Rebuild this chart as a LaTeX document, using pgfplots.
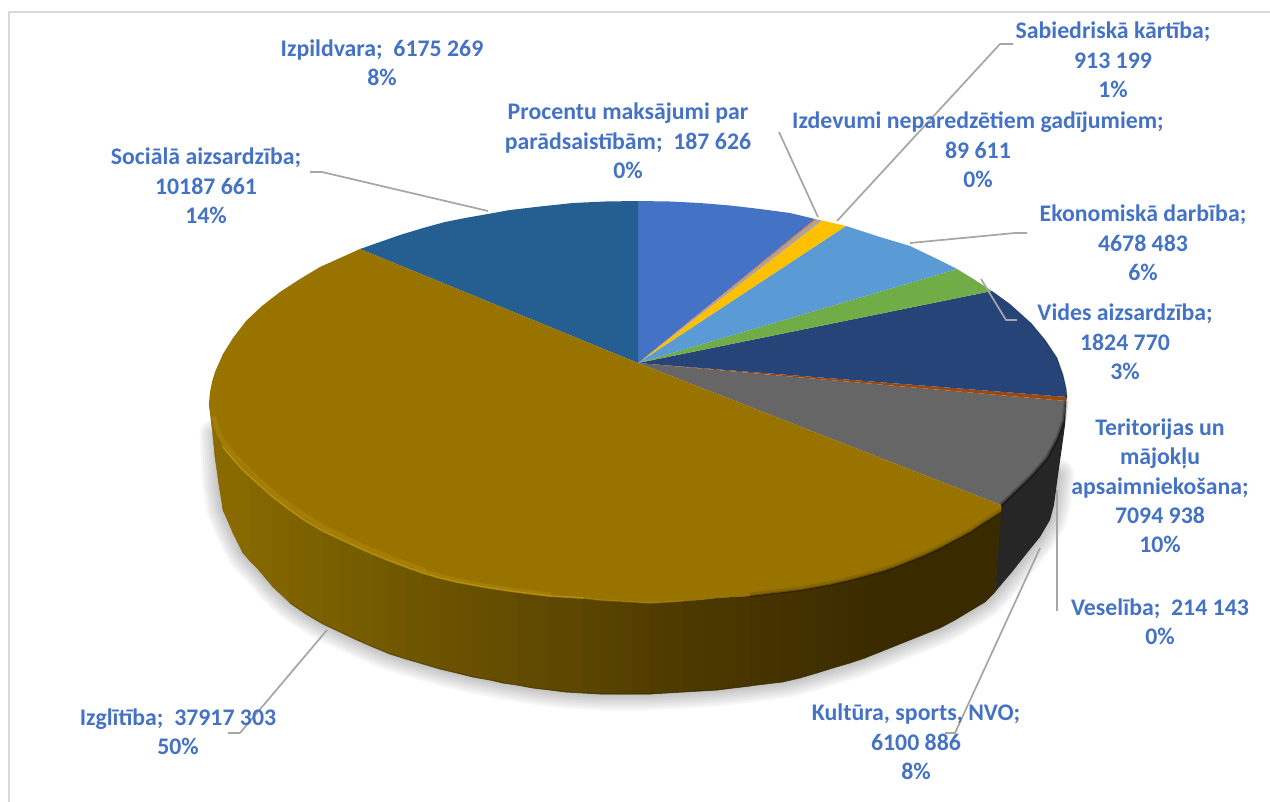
\documentclass[border=0pt]{standalone}
\usepackage{pgfplots}
\pgfplotsset{compat=1.18}
\usepackage{fontspec}
\setmainfont{Carlito}
\definecolor{gl}{HTML}{8A6C00}
\definecolor{gd}{HTML}{3A2A00}
\definecolor{txt}{HTML}{4472C4}
\definecolor{lead}{HTML}{A6A6A6}
\newcommand{\st}[7]{\addplot[fill=gl!#1!gd,draw=gl!#1!gd,line width=.35pt] coordinates {(#2,#3)(#5,#6)(#5,#7)(#2,#4)} --cycle;}
\tikzset{lab/.style={font=\fontsize{17.2}{21.2}\selectfont\bfseries,text=txt,align=center,inner sep=0pt},
 ld/.style={draw=lead,line width=1.25pt,line join=round}}
\begin{document}
\begin{tikzpicture}
\path[use as bounding box] (0,0) rectangle (12.7in,8.02in);
\begin{axis}[at={(0,0)},anchor=south west,scale only axis,width=12.7in,height=8.02in,
  xmin=0,xmax=1270,ymin=0,ymax=802,y dir=reverse,hide axis,clip=false]
% frame
\addplot[draw=black!15,line width=1.1pt] coordinates {(9,802)(9,12)(1270,12)};
% shadow
\pgfplotsinvokeforeach{24,21,18,15,12,9,6,3}{
\addplot[draw=black,draw opacity=.032,line width=#1pt,line join=round,line cap=round] coordinates {(216,435)(219,485)(223,510)(233,533)(243,553)(250,561)(257,568)(273,587)(290,603)(306,614)(323,624)(340,632)(357,640)(373,647)(390,654)(406,659)(423,664)(440,669)(457,673)(473,677)(490,680)(503,683)(517,685)(533,688)(550,690)(566,692)(583,693)(600,694)(617,694)(633,694)(650,694)(666,693)(683,692)(700,691)(717,690)(733,688)(750,686)(766,684)(783,682)(800,678)(817,673)(833,668)(850,663)(865,658)(880,652)(895,646)(910,640)(925,634)(940,628)(955,620)(970,611)(985,602)(995,592)(1012,572)(1027,553)(1040,537)(1050,520)(1054,505)(1058,475)};
}
% side, dark grey
\addplot[fill=black!85,draw=none] coordinates {(1001,503)(1020,485)(1047,456)(1058,435)(1066,401)(1065,425)(1062,447)(1058,475)(1054,505)(1050,520)(1040,537)(1027,553)(1012,572)(995,592)} --cycle;
% side, gold strips
\st{100}{209}{403}{403}{212}{420}{427}
\st{100}{212}{420}{427}{215}{430}{457}
\st{99}{215}{430}{457}{219}{439}{485}
\st{98}{219}{439}{485}{223}{447}{510}
\st{97}{223}{447}{510}{233}{459}{533}
\st{96}{233}{459}{533}{243}{470}{553}
\st{95}{243}{470}{553}{250}{477}{561}
\st{93}{250}{477}{561}{257}{483}{568}
\st{91}{257}{483}{568}{273}{497}{587}
\st{88}{273}{497}{587}{290}{510}{603}
\st{85}{290}{510}{603}{306}{521}{614}
\st{83}{306}{521}{614}{323}{531}{624}
\st{80}{323}{531}{624}{340}{539}{632}
\st{78}{340}{539}{632}{357}{547}{640}
\st{75}{357}{547}{640}{373}{554}{647}
\st{71}{373}{554}{647}{390}{561}{654}
\st{68}{390}{561}{654}{406}{567}{659}
\st{65}{406}{567}{659}{423}{573}{664}
\st{62}{423}{573}{664}{440}{578}{669}
\st{60}{440}{578}{669}{457}{582}{673}
\st{58}{457}{582}{673}{473}{585}{677}
\st{56}{473}{585}{677}{490}{588}{680}
\st{54}{490}{588}{680}{503}{590}{683}
\st{52}{503}{590}{683}{517}{592}{685}
\st{49}{517}{592}{685}{533}{594}{688}
\st{47}{533}{594}{688}{550}{596}{690}
\st{44}{550}{596}{690}{566}{597}{692}
\st{42}{566}{597}{692}{583}{598}{693}
\st{39}{583}{598}{693}{600}{600}{694}
\st{37}{600}{600}{694}{617}{601}{694}
\st{34}{617}{601}{694}{633}{602}{694}
\st{31}{633}{602}{694}{650}{603}{694}
\st{28}{650}{603}{694}{666}{602}{693}
\st{26}{666}{602}{693}{683}{601}{692}
\st{23}{683}{601}{692}{700}{600}{691}
\st{21}{700}{600}{691}{717}{598}{690}
\st{19}{717}{598}{690}{733}{597}{688}
\st{17}{733}{597}{688}{750}{596}{686}
\st{15}{750}{596}{686}{766}{594}{684}
\st{13}{766}{594}{684}{783}{592}{682}
\st{11}{783}{592}{682}{800}{590}{678}
\st{9}{800}{590}{678}{817}{587}{673}
\st{7}{817}{587}{673}{833}{584}{668}
\st{5}{833}{584}{668}{850}{580}{663}
\st{3}{850}{580}{663}{865}{576}{658}
\st{1}{865}{576}{658}{880}{572}{652}
\addplot[fill=gd,draw=gd,line width=.35pt] coordinates {(880,572)(895,567)(910,561)(925,555)(940,548)(955,540)(970,532)(985,522)(1001,512)(995,592)(985,602)(970,611)(955,620)(940,628)(925,634)(910,640)(895,646)(880,652)} --cycle;
% dark lower lip
\addplot[draw=black,draw opacity=.2,line width=.9pt] coordinates {(290,603)(306,614)(323,624)(340,632)(357,640)(373,647)(390,654)(406,659)(423,664)(440,669)(457,673)(473,677)(490,680)(503,683)(517,685)(533,688)(550,690)(566,692)(583,693)(600,694)(617,694)(633,694)(650,694)(666,693)(683,692)(700,691)(717,690)(733,688)(750,686)};
% top face
\addplot[fill=black!60,draw=none] coordinates {(638,363)(1066,401)(1064,420)(1058,437)(1047,458)(1034,473)(1020,487)(1001,505)} --cycle;
\addplot[draw=black,draw opacity=.12,line width=3.5pt] coordinates {(1066,401)(1064,420)(1058,437)(1047,458)(1034,473)(1020,487)(1001,505)};
\addplot[draw=black,draw opacity=.25,line width=2pt] coordinates {(1066,401)(1064,420)(1058,437)(1047,458)(1034,473)(1020,487)(1001,505)};
\addplot[fill={rgb,255:red,158;green,72;blue,14},draw=none] coordinates {(638,363)(1067,397)(1066,401)} --cycle;
\addplot[fill={rgb,255:red,38;green,68;blue,120},draw=none] coordinates {(638,363)(992,291)(1010,304)(1030,322)(1045,340)(1057,358)(1063,375)(1066,388)(1067,397)} --cycle;
\addplot[fill={rgb,255:red,112;green,173;blue,71},draw=none] coordinates {(638,363)(957,269)(975,280)(992,291)} --cycle;
\addplot[fill={rgb,255:red,91;green,155;blue,213},draw=none] coordinates {(638,363)(846,226)(880,237)(910,246)(935,258)(957,269)} --cycle;
\addplot[fill={rgb,255:red,255;green,192;blue,0},draw=none] coordinates {(638,363)(822,220.5)(846,226)} --cycle;
\addplot[fill={rgb,255:red,165;green,165;blue,165},draw=none] coordinates {(638,363)(817,219.5)(822,220.5)} --cycle;
\addplot[fill={rgb,255:red,237;green,125;blue,49},draw=none] coordinates {(638,363)(815,219)(817,219.5)} --cycle;
\addplot[fill={rgb,255:red,68;green,114;blue,196},draw=none] coordinates {(638,363)(638,201)(670,201.5)(700,203)(730,205.5)(760,209)(790,213)(815,219)} --cycle;
\addplot[fill={rgb,255:red,37;green,94;blue,145},draw=none] coordinates {(638,363)(360,249)(380,242)(400,235)(423,228)(445,222)(465,218)(488,214)(510,210)(540,206.5)(573,203)(605,201.5)(638,201)} --cycle;
\addplot[fill={rgb,255:red,153;green,115;blue,0},draw=none] coordinates {(638,363)(1001,505)(1001,512)(985,522)(970,532)(955,540)(940,548)(925,555)(910,561)(895,567)(880,572)(865,576)(850,580)(833,584)(817,587)(800,590)(783,592)(766,594)(750,596)(733,597)(717,598)(700,600)(683,601)(666,602)(650,603)(633,602)(617,601)(600,600)(583,598)(566,597)(550,596)(533,594)(517,592)(503,590)(490,588)(473,585)(457,582)(440,578)(423,573)(406,567)(390,561)(373,554)(357,547)(340,539)(323,531)(306,521)(290,510)(273,497)(257,483)(250,477)(243,470)(233,459)(223,447)(219,439)(215,430)(212,420)(209,403)(210,392)(212,382)(215,372)(223,354)(233,338)(246,321)(262,306)(280,292)(300,279)(320,267)(340,258)(360,249)} --cycle;
% rim highlight
\addplot[draw={rgb,255:red,190;green,150;blue,15},draw opacity=.3,line width=3.2pt,line join=round,line cap=round] coordinates {(214,418)(219,435)(225,444)(235,456)(259,480)(275,494)(292,507)(325,528)(358,544)(391,558)(424,570)};
\addplot[draw={rgb,255:red,190;green,150;blue,15},draw opacity=.3,line width=2.4pt,line join=round,line cap=round] coordinates {(424,571)(458,580)(490,586)(517,590)(550,594)};
\addplot[draw={rgb,255:red,196;green,156;blue,20},draw opacity=.7,line width=1.2pt,line join=round,line cap=round] coordinates {(223,447)(233,459)(243,470)(257,483)(273,497)(290,510)(306,521)(323,531)(340,539)(357,547)(373,554)(390,561)(406,567)(423,573)(440,578)(457,582)(473,585)(490,588)(517,592)(533,594)(550,596)(566,597)(583,598)};
\addplot[draw={rgb,255:red,190;green,150;blue,15},draw opacity=.35,line width=1.2pt,line cap=round] coordinates {(583,598)(600,600)(617,601)(633,602)(650,603)(666,602)(683,601)};
\addplot[draw=black,draw opacity=.1,line width=3.6pt] coordinates {(750,595)(766,593)(783,591)(800,589)(817,586)(833,583)(850,579)(865,575)(880,571)(895,566)(910,560)(925,554)(940,547)(955,539)(970,531)(985,521)(1001,511)};
\addplot[draw=black,draw opacity=.22,line width=1.6pt] coordinates {(750,596)(766,594)(783,592)(800,590)(817,587)(833,584)(850,580)(865,576)(880,572)(895,567)(910,561)(925,555)(940,548)(955,540)(970,532)(985,522)(1001,512)};
% dark edge on the navy rim
\addplot[draw=black,draw opacity=.3,line width=.8pt] coordinates {(1030,322)(1045,340)(1057,358)(1063,375)(1066,388)(1067,397)(1066,401)};
% leaders
\addplot[ld] coordinates {(310,172)(322,172)(488,211)};
\addplot[ld] coordinates {(228,733)(240,733)(327,630)};
\addplot[ld] coordinates {(945,733)(955,733)(1040,548)};
\addplot[ld] coordinates {(1057,490)(1057,611)};
\addplot[ld] coordinates {(1017,320)(1006,320)(981,279)};
\addplot[ld] coordinates {(910,243)(1015,233)(1027,233)};
\addplot[ld] coordinates {(818,217)(779,132)};
\addplot[ld] coordinates {(837,221)(1000,44)(1013,44)};
% labels
\node[lab] at (axis cs:382,63) {Izpildvara;\ \ 6175 269\\8\%};
\node[lab] at (axis cs:628,141) {Procentu maksājumi par\\parādsaistībām;\ \ 187 626\\0\%};
\node[lab] at (axis cs:1113,60) {Sabiedriskā kārtība;\\913 199\\1\%};
\node[lab] at (axis cs:978,150) {Izdevumi neparedzētiem gadījumiem;\\89 611\\0\%};
\node[lab] at (axis cs:1143,243) {Ekonomiskā darbība;\\4678 483\\6\%};
\node[lab] at (axis cs:1125,342) {Vides aizsardzība;\\1824 770\\3\%};
\node[lab] at (axis cs:1160,486) {Teritorijas un\\mājokļu\\apsaimniekošana;\\7094 938\\10\%};
\node[lab] at (axis cs:1160,622) {Veselība;\ \ 214 143\\0\%};
\node[lab] at (axis cs:916,742) {Kultūra, sports, NVO;\\6100 886\\8\%};
\node[lab] at (axis cs:178,732) {Izglītība;\ \ 37917 303\\50\%};
\node[lab] at (axis cs:206,186) {Sociālā aizsardzība;\\10187 661\\14\%};
\end{axis}
\end{tikzpicture}
\end{document}
